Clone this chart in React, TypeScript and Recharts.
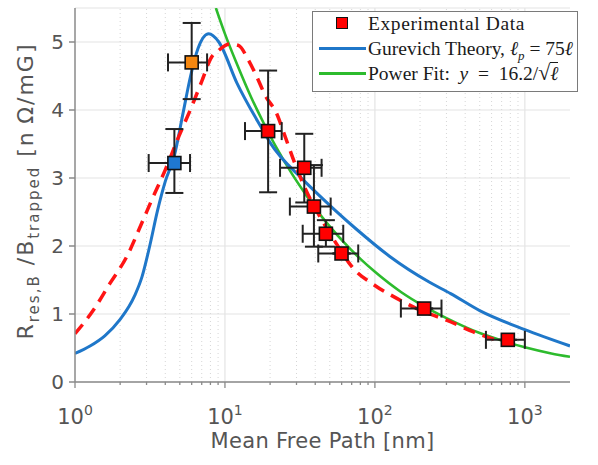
import React from 'react';
import {
  ComposedChart, Line, Scatter, XAxis, YAxis, CartesianGrid,
  ReferenceLine, ErrorBar, Legend,
} from 'recharts';

// Measured samples: mean free path [nm] vs R_res,B / B_trapped [nOhm/mG]
const mfp = [4.6, 6.0, 19.4, 33.8, 39.2, 47.1, 59.9, 213, 770];
const rres = [3.22, 4.7, 3.69, 3.15, 2.58, 2.18, 1.89, 1.08, 0.62];
// error bar bounds (absolute values)
const mfpLow = [3.1, 4.17, 13.6, 23.3, 27.1, 33, 41.9, 149, 550];
const mfpHigh = [5.85, 7.6, 23.9, 44.1, 50.7, 61.5, 77.4, 278, 1000];
const rresLow = [2.78, 4.16, 2.79, 2.64, 1.99, 1.99, 1.89, 1.08, 0.62];
const rresHigh = [3.72, 5.28, 4.58, 3.65, 3.19, 2.38, 1.89, 1.08, 0.62];
const markerFill = ['#1f78d1', '#f5870f', '#ff0000', '#ff0000', '#ff0000', '#ff0000', '#ff0000', '#ff0000', '#ff0000'];

// Gurevich theory, l_p = 75 l
const gurevichX = [1, 1.26, 1.58, 2, 2.5, 2.8, 3.15, 3.55, 4, 4.6, 5.25, 5.9, 6.6, 7.8, 9.1, 12, 17.6, 20, 33, 40, 75, 125, 230, 320, 500, 1000, 2000];
const gurevichY = [0.42, 0.53, 0.68, 0.92, 1.27, 1.55, 2.0, 2.52, 2.95, 3.33, 3.95, 4.5, 4.9, 5.12, 5.0, 4.4, 3.73, 3.52, 2.98, 2.8, 2.25, 1.85, 1.47, 1.3, 1.05, 0.77, 0.53];

// power fit y = 16.2 / sqrt(l)
const powerX = [8.7, 10, 12, 15, 18, 22, 28, 35, 45, 60, 80, 100, 150, 210, 300, 500, 700, 1000, 1500, 2000];
const powerY = [5.5, 5.12, 4.68, 4.18, 3.82, 3.45, 3.06, 2.74, 2.41, 2.09, 1.81, 1.62, 1.32, 1.12, 0.94, 0.72, 0.61, 0.51, 0.42, 0.37];

// dashed model curve
const modelX = [1, 1.32, 1.71, 2.21, 2.78, 3.24, 4, 4.9, 6, 7, 8.15, 9, 10.8, 12.3, 14.3, 16.3, 18.5, 22.1, 25.1, 29.3, 34.2, 43, 57, 70, 100, 140, 190, 260, 300, 450, 680, 780];
const modelY = [0.71, 1.05, 1.45, 1.84, 2.33, 2.67, 3.12, 3.6, 4.05, 4.42, 4.78, 4.87, 4.97, 4.95, 4.74, 4.49, 4.22, 3.95, 3.62, 3.21, 2.85, 2.43, 1.99, 1.7, 1.42, 1.23, 1.08, 0.96, 0.91, 0.74, 0.6, 0.56];

const majorX = [1, 10, 100, 1000];
const minorX = [2, 3, 4, 5, 6, 7, 8, 9, 20, 30, 40, 50, 60, 70, 80, 90, 200, 300, 400, 500, 600, 700, 800, 900];
const yTicks = [0, 1, 2, 3, 4, 5];

const toPoints = (xs: number[], ys: number[]) => xs.map((x, i) => ({ x, y: ys[i] }));
const gurevich = toPoints(gurevichX, gurevichY);
const power = toPoints(powerX, powerY);
const model = toPoints(modelX, modelY);
const samples = mfp.map((x, i) => ({
  x,
  y: rres[i],
  ex: [x - mfpLow[i], mfpHigh[i] - x],
  ey: [rres[i] - rresLow[i], rresHigh[i] - rres[i]],
  fill: markerFill[i],
}));

const SANS = '"DejaVu Sans", sans-serif';
const SERIF = '"Liberation Serif", "DejaVu Serif", serif';
const AXIS_GREY = '#8a8a8a';
const TEXT_GREY = '#555';

const MfpTick = (props: any) => {
  const { x, y, payload } = props;
  const lg = Math.log10(payload.value);
  const major = Math.abs(lg - Math.round(lg)) < 1e-6;
  return (
    <g>
      <line x1={x} x2={x} y1={y} y2={y + (major ? 6 : 3)} stroke={AXIS_GREY} strokeWidth={1.3} />
      {major && (
        <text x={x} y={y + 42} textAnchor="middle" fontFamily={SANS} fontSize={21} fill={TEXT_GREY}>
          10<tspan dy={-9} fontSize={14}>{Math.round(lg)}</tspan>
        </text>
      )}
    </g>
  );
};

const YTitle = (props: any) => {
  const vb = props.viewBox || { x: 15, y: 8, width: 60, height: 374 };
  const cx = vb.x + 18;
  const cy = vb.y + vb.height / 2 - 4;
  return (
    <text transform={`translate(${cx},${cy}) rotate(-90)`} textAnchor="middle"
      fontFamily={SANS} fontSize={22} fill={TEXT_GREY} letterSpacing={2}>
      R<tspan fontSize={15} dy={6}>res,B</tspan>
      <tspan dy={-6}> /B</tspan>
      <tspan fontSize={15} dy={6}>trapped</tspan>
      <tspan dy={-6}> [n{'\u2009'}Ω/mG]</tspan>
    </text>
  );
};

const XTitle = (props: any) => {
  const vb = props.viewBox || { x: 75, y: 382, width: 495, height: 45 };
  return (
    <text x={vb.x + vb.width / 2} y={vb.y + 66} textAnchor="middle"
      fontFamily={SANS} fontSize={21} fill={TEXT_GREY} letterSpacing={0.3}>
      Mean Free Path [nm]
    </text>
  );
};

const Square = (props: any) => {
  const { cx, cy, payload } = props;
  return <rect x={cx - 6.5} y={cy - 6.5} width={13} height={13} fill={payload.fill} stroke="#111" strokeWidth={1.6} />;
};

const LegendBox = () => {
  const row = (top: number): React.CSSProperties => ({ position: 'absolute', left: 55, top, height: 24, lineHeight: '24px', whiteSpace: 'nowrap' });
  const swatch = (top: number, color: string): React.CSSProperties => ({ position: 'absolute', left: 6, top, width: 47, height: 3, background: color });
  return (
    <div style={{
      position: 'relative', width: 266, height: 81, boxSizing: 'border-box',
      border: '1.5px solid #7a7a7a', background: '#fff', fontFamily: SERIF, fontSize: 19.5, color: '#1a1a1a',
    }}>
      <div style={{ position: 'absolute', left: 23, top: 5, width: 10, height: 10, background: '#ff0000', border: '1.6px solid #111' }} />
      <div style={{ ...row(0), letterSpacing: 0.6 }}>Experimental Data</div>
      <div style={swatch(35, '#1f77c9')} />
      <div style={row(24.5)}>
        Gurevich Theory, <i>ℓ</i><sub style={{ fontSize: 13, fontStyle: 'italic' }}>p</sub> = 75<i>ℓ</i>
      </div>
      <div style={swatch(59.5, '#2dbb2d')} />
      <div style={row(49)}>
        Power Fit:{'\u2002'}<i>y</i>{'\u2002'}={'\u2002'}16.2/<span style={{ fontSize: 22 }}>√</span><span style={{ borderTop: '1.3px solid #1a1a1a', fontStyle: 'italic' }}>ℓ</span>
      </div>
    </div>
  );
};

export default function App() {
  return (
    <div style={{ position: 'absolute', left: 0, top: 0, background: '#fff' }}>
      <ComposedChart width={598} height={465} margin={{ top: 8, right: 28, left: 15, bottom: 38 }}>
        <CartesianGrid vertical={false} stroke="#e4e4e4" strokeWidth={1.2} />
        {majorX.slice(1).map(v => (
          <ReferenceLine key={`M${v}`} x={v} stroke="#e4e4e4" strokeWidth={1.2} />
        ))}
        {minorX.map(v => (
          <ReferenceLine key={`m${v}`} x={v} stroke="#d6d6d6" strokeWidth={1} strokeDasharray="1 3" />
        ))}
        <XAxis type="number" dataKey="x" scale="log" domain={[1, 2000]} allowDataOverflow
          ticks={[...majorX, ...minorX].sort((a, b) => a - b)} interval={0}
          tick={<MfpTick />} tickLine={false} tickSize={0} tickMargin={0}
          stroke={AXIS_GREY} strokeWidth={1.5} height={45} label={<XTitle />} />
        <YAxis type="number" domain={[0, 5.5]} allowDataOverflow ticks={yTicks} width={60}
          tickSize={6} tickMargin={5} stroke={AXIS_GREY} strokeWidth={1.5}
          tick={{ fontSize: 20, fill: TEXT_GREY, fontFamily: SANS }} label={<YTitle />} />
        <Line data={power} dataKey="y" type="monotone" stroke="#2dbb2d" strokeWidth={2.6} dot={false} isAnimationActive={false} />
        <Line data={gurevich} dataKey="y" type="monotone" stroke="#1f77c9" strokeWidth={3} dot={false} isAnimationActive={false} />
        <Line data={model} dataKey="y" type="monotone" stroke="#ff1414" strokeWidth={3.5} strokeDasharray="12 8" dot={false} isAnimationActive={false} />
        <Scatter data={samples} dataKey="y" shape={<Square />} isAnimationActive={false}>
          <ErrorBar dataKey="ex" direction="x" width={9} stroke="#222" strokeWidth={2} />
          <ErrorBar dataKey="ey" direction="y" width={9} stroke="#222" strokeWidth={2} />
        </Scatter>
        <Legend layout="vertical" align="center" verticalAlign="middle" content={<LegendBox />}
          wrapperStyle={{ left: 312, top: 11, width: 266, height: 81 }} />
      </ComposedChart>
    </div>
  );
}
